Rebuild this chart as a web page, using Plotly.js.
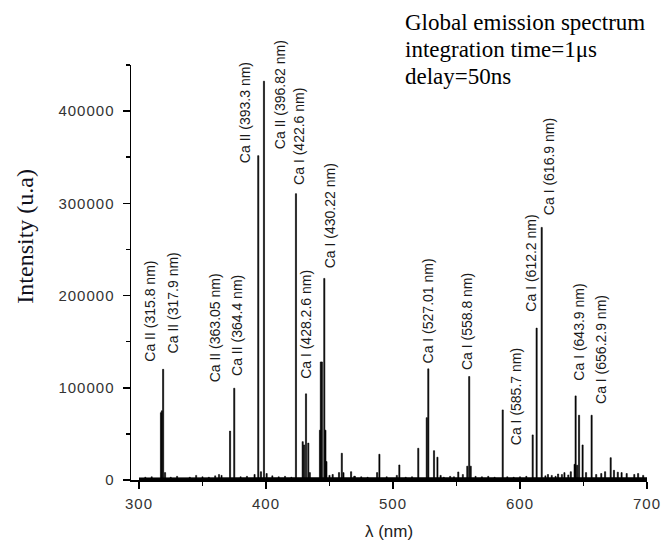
<!DOCTYPE html>
<html>
<head>
<meta charset="utf-8">
<script src="https://cdn.plot.ly/plotly-3.0.1.min.js"></script>
<style>
  html, body { margin: 0; padding: 0; background: #fff; }
  #chart { width: 662px; height: 547px; }
  .xtick text, .ytick text { letter-spacing: 1px; }
</style>
</head>
<body>
<div id="chart"></div>
<script>
// ---- Data ----
// Emission lines (wavelength in nm, intensity in a.u.)
const lineNm = [
  317.3, 318.0, 319.0, 320.5,
  371.7, 375.0,
  391.0, 393.9, 396.0, 398.4, 400.5,
  423.6,
  428.9, 430.0, 431.5, 433.3, 434.5,
  442.5, 443.2, 444.0, 445.9, 446.8, 447.6,
  450.0, 452.5, 457.5, 459.7, 461.0, 467.0, 469.5,
  487.5, 489.3, 503.0, 505.0,
  519.9, 526.6, 527.8, 532.3, 535.0, 537.5,
  551.4, 558.5, 560.0, 561.2,
  586.4, 610.0, 613.1, 617.1,
  622.0, 630.0, 635.0, 640.0,
  643.0, 643.8, 645.0, 646.5, 649.3, 652.0,
  656.4, 660.0, 664.0, 667.0, 671.4, 674.0, 677.0, 680.0, 684.0, 690.0, 693.0, 697.0
];
const lineIntensity = [
  73000, 75000, 120000, 8000,
  53000, 99500,
  6000, 351700, 9000, 432400, 7000,
  310500,
  41600, 38000, 93400, 40000, 8000,
  54000, 128000, 128000, 218600, 54000, 20000,
  5000, 6000, 8000, 29000, 8000, 9000, 4000,
  8000, 27900, 5000, 16300,
  34400, 67600, 120500, 31800, 24700, 5000,
  8700, 15000, 112200, 15000,
  76000, 48900, 164700, 273900,
  6000, 6500, 8000, 9000,
  17000, 91200, 16000, 70200, 38000, 8000,
  70200, 6000, 7000, 9000, 24200, 10500, 8500, 8000, 7000, 6000, 7000, 5000
];
// Small background spikes
const noiseNm = [305, 310, 325, 330, 340, 345, 350, 355, 360, 363, 365, 380, 385,
  405, 410, 415, 420, 470, 475, 480, 495, 510, 515, 540, 545, 548, 555, 565,
  570, 575, 580, 590, 595, 600, 605, 620, 625, 628, 633, 638];
const noiseIntensity = [3000, 3500, 3000, 4000, 3000, 5000, 3500, 3000, 4500, 6000, 5000, 3500, 4000,
  4500, 3500, 4000, 3000, 4000, 3500, 3000, 3500, 3000, 3500, 3000, 4000, 3500, 6000, 4000,
  3500, 4000, 3000, 3500, 3000, 3500, 4000, 4500, 5000, 4000, 6000, 5500];
// Continuum baseline
const baseNm = [300, 350, 400, 450, 500, 550, 600, 650, 700];
const baseIntensity = [2000, 2200, 2500, 2400, 2200, 2200, 2300, 2600, 2200];

// Line identification labels
const labelText = [
  'Ca II (315.8 nm)', 'Ca II (317.9 nm)', 'Ca II (363.05 nm)', 'Ca II (364.4 nm)',
  'Ca II (393.3 nm)', 'Ca II (396.82 nm)', 'Ca I (422.6 nm)', 'Ca I (428.2.6 nm)',
  'Ca I (430.22 nm)', 'Ca I (527.01 nm)', 'Ca I (558.8 nm)', 'Ca I (585.7 nm)',
  'Ca I (612.2 nm)', 'Ca I (616.9 nm)', 'Ca I (643.9 nm)', 'Ca I (656.2.9 nm)'
];
// Label anchor positions (bottom-centre of each rotated label), in axis units
const labelPos = [
  [308.7, 126700], [326.8, 135700], [359.8, 105300], [377.6, 111800],
  [383.5, 342000], [411.0, 358200], [426.0, 318400], [431.9, 108600],
  [450.4, 228000], [527.6, 124800], [558.3, 117600], [596.9, 36200],
  [608.7, 181000], [622.8, 286600], [646.9, 106700], [664.2, 81400]
];

const infoLines = ['Global emission spectrum', 'integration time=1μs', 'delay=50ns'];
// vertical centres of the info lines (paper units)
const infoY = [1.1025, 1.038, 0.973];

// ---- Traces ----
const traces = [
  {
    type: 'scatter', mode: 'lines', x: baseNm, y: baseIntensity,
    line: {color: '#000', width: 1.5}, fill: 'tozeroy', fillcolor: '#000',
    hoverinfo: 'skip', showlegend: false
  },
  {
    type: 'bar', x: noiseNm, y: noiseIntensity, width: 0.9,
    marker: {color: '#000', line: {color: '#000', width: 0.5}},
    showlegend: false
  },
  {
    type: 'bar', x: lineNm, y: lineIntensity, width: 0.9,
    marker: {color: '#000', line: {color: '#000', width: 0.6}},
    showlegend: false
  }
];

const annotations = labelText.map((t, i) => ({
  x: labelPos[i][0], y: labelPos[i][1], xref: 'x', yref: 'y',
  text: t, showarrow: false, textangle: -90,
  xanchor: 'center', yanchor: 'bottom', borderpad: 0,
  font: {family: 'Liberation Sans, Arial, sans-serif', size: 14, color: '#1a1a1a'}
}));

infoLines.forEach((t, i) => annotations.push({
  xref: 'paper', yref: 'paper', x: 0.529, y: infoY[i], xanchor: 'left', yanchor: 'middle',
  align: 'left', showarrow: false, text: t, borderpad: 0,
  font: {family: 'Liberation Serif, Times New Roman, serif', size: 23, color: '#000'}
}));
annotations.push({
  xref: 'paper', yref: 'paper', x: -0.206, y: 0.588, xanchor: 'center', yanchor: 'middle',
  showarrow: false, textangle: -90, text: 'Intensity (u.a)',
  font: {family: 'Liberation Serif, Times New Roman, serif', size: 24, color: '#10101c'}
});

const tickFont = {family: 'Liberation Sans, Arial, sans-serif', size: 15, color: '#333'};

const layout = {
  width: 662, height: 547,
  margin: {l: 131, r: 15, t: 65, b: 67},
  paper_bgcolor: '#fff', plot_bgcolor: '#fff',
  barmode: 'overlay',
  showlegend: false,
  xaxis: {
    range: [293.7, 700], tickvals: [300, 400, 500, 600, 700],
    ticks: 'outside', ticklen: 7, tickwidth: 1.5, tickcolor: '#000',
    showline: true, linecolor: '#000', linewidth: 2,
    showgrid: false, zeroline: false, tickfont: tickFont, ticklabelstandoff: 2,
    minor: {dtick: 50, tick0: 300, ticks: 'outside', ticklen: 4, tickwidth: 1.5, tickcolor: '#000', showgrid: false},
    title: {text: 'λ (nm)', standoff: 14, font: {family: 'Liberation Sans, Arial, sans-serif', size: 17, color: '#222'}}
  },
  yaxis: {
    range: [0, 450000], tickvals: [0, 100000, 200000, 300000, 400000], tickformat: 'd',
    ticks: 'outside', ticklen: 7, tickwidth: 1.5, tickcolor: '#000',
    showline: true, linecolor: '#000', linewidth: 1.5,
    showgrid: false, zeroline: false, tickfont: tickFont, ticklabelstandoff: 5,
    minor: {dtick: 50000, tick0: 0, ticks: 'outside', ticklen: 4, tickwidth: 1.5, tickcolor: '#000', showgrid: false}
  },
  annotations: annotations
};

Plotly.newPlot('chart', traces, layout, {displayModeBar: false, staticPlot: true});
</script>
</body>
</html>
